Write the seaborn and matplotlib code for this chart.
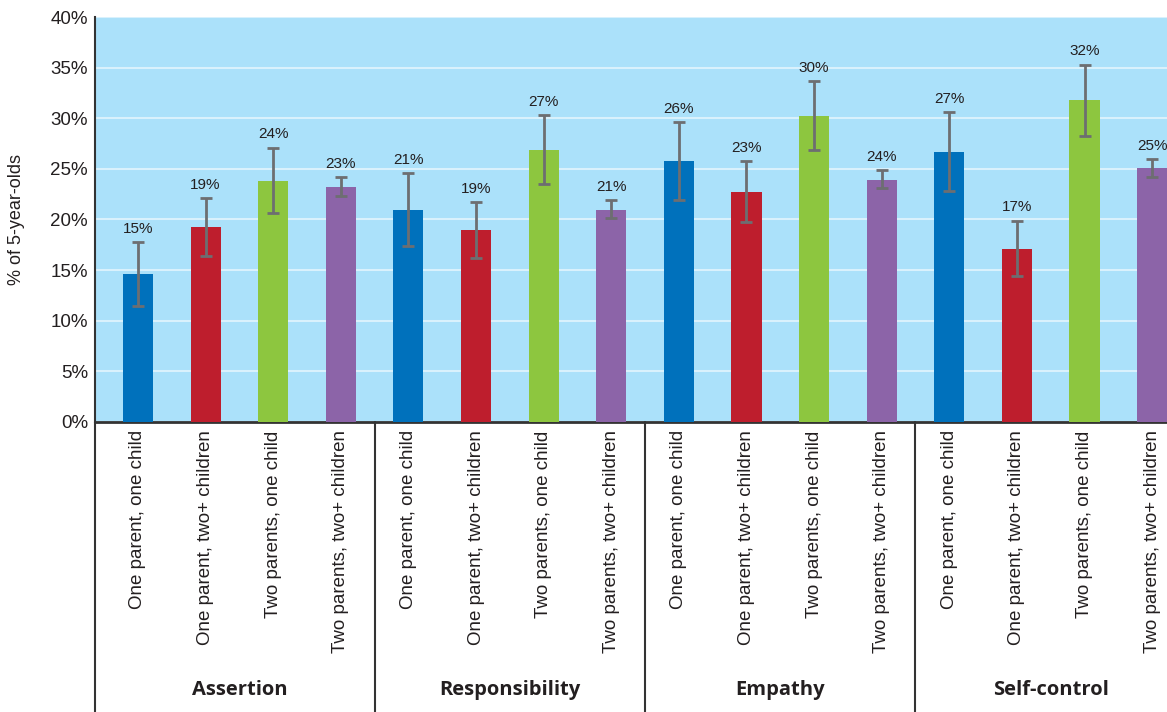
import pandas as pd
import numpy as np
import matplotlib
matplotlib.use("Agg")
import matplotlib.pyplot as plt
import matplotlib.transforms as mtransforms
import seaborn as sns

# Data (percent of 5-year-olds)
groups = ["Assertion", "Responsibility", "Empathy", "Self-control"]
families = [
    "One parent, one child",
    "One parent, two+ children",
    "Two parents, one child",
    "Two parents, two+ children",
]
values = [14.6, 19.3, 23.8, 23.2,
          20.9, 19.0, 26.9, 20.9,
          25.8, 22.7, 30.2, 23.9,
          26.7, 17.1, 31.8, 25.1]
err_low = [11.5, 16.4, 20.6, 22.3,
           17.4, 16.2, 23.5, 20.1,
           21.9, 19.8, 26.9, 23.1,
           22.8, 14.4, 28.2, 24.2]
err_high = [17.8, 22.1, 27.1, 24.2,
            24.6, 21.7, 30.3, 21.9,
            29.6, 25.8, 33.7, 24.9,
            30.6, 19.9, 35.3, 26.0]
yticks = [0, 5, 10, 15, 20, 25, 30, 35, 40]

colors = {
    "One parent, one child": "#0071bc",
    "One parent, two+ children": "#be1e2d",
    "Two parents, one child": "#8dc63f",
    "Two parents, two+ children": "#8c64a8",
}

df = pd.DataFrame({
    "group": np.repeat(groups, len(families)),
    "family": families * len(groups),
    "value": values,
})
df["key"] = df["group"] + " | " + df["family"]

sns.set_style("white", {"axes.facecolor": "#abe1fa"})
plt.rcParams["font.family"] = ["Liberation Sans", "DejaVu Sans"]

W, H = 1167, 712
fig = plt.figure(figsize=(W / 100, H / 100), dpi=100)
ax_left, ax_right, ax_top, ax_bottom = 95, 1167, 17, 422
ax = fig.add_axes([ax_left / W, 1 - ax_bottom / H,
                   (ax_right - ax_left) / W, (ax_bottom - ax_top) / H])

sns.barplot(data=df, x="key", y="value", hue="family", palette=colors,
            dodge=False, width=0.445, legend=False, errorbar=None,
            saturation=1, linewidth=0, ax=ax, zorder=3)

xpos = np.arange(len(df))
vals = np.array(values)
yerr = np.vstack([vals - np.array(err_low), np.array(err_high) - vals])
ax.errorbar(xpos, vals, yerr=yerr, fmt="none", ecolor="#6d6e71",
            elinewidth=2, capsize=4.5, capthick=2, zorder=4)

for x, v, top in zip(xpos, values, err_high):
    ax.text(x, top + 0.9, f"{round(v)}%", ha="center", va="baseline",
            fontsize=11, color="#231f20", zorder=5)

ax.set_ylim(0, 40)
ax.set_xlim(-0.636, 15.22)
ax.set_yticks(yticks)
ax.set_yticklabels([f"{t}%" for t in yticks], fontsize=13.5, color="#231f20")
ax.yaxis.grid(True, color="white", alpha=0.55, linewidth=1.5, zorder=0)
ax.set_axisbelow(True)
ax.set_xticks(xpos)
ax.set_xticklabels(df["family"], rotation=90, fontsize=13.5, color="#231f20")
ax.tick_params(axis="both", length=0)
ax.tick_params(axis="x", pad=6)
ax.tick_params(axis="y", pad=5)
ax.set_xlabel("")
ax.set_ylabel("% of 5-year-olds", fontsize=13, color="#231f20", labelpad=18)

for side in ["top", "right"]:
    ax.spines[side].set_visible(False)
ax.spines["bottom"].set_color("#333333")
ax.spines["bottom"].set_linewidth(2)
ax.spines["left"].set_color("#333333")
ax.spines["left"].set_linewidth(1.5)

# group separators and group names below the axis
trans = mtransforms.blended_transform_factory(ax.transData, ax.transAxes)
depth = -(H - ax_bottom) / (ax_bottom - ax_top)
for sx in [-0.636, 3.5, 7.5, 11.5]:
    ax.plot([sx, sx], [0, depth], transform=trans, color="#333333",
            linewidth=1.5, clip_on=False, zorder=6)
label_y = -(690 - ax_bottom) / (ax_bottom - ax_top)
for i, g in enumerate(groups):
    ax.text(i * 4 + 1.5, label_y, g, transform=trans, ha="center", va="center",
            fontsize=14.5, fontweight="bold", color="#231f20",
            family=["Open Sans", "DejaVu Sans"])

fig.savefig("out.png", dpi=100)
